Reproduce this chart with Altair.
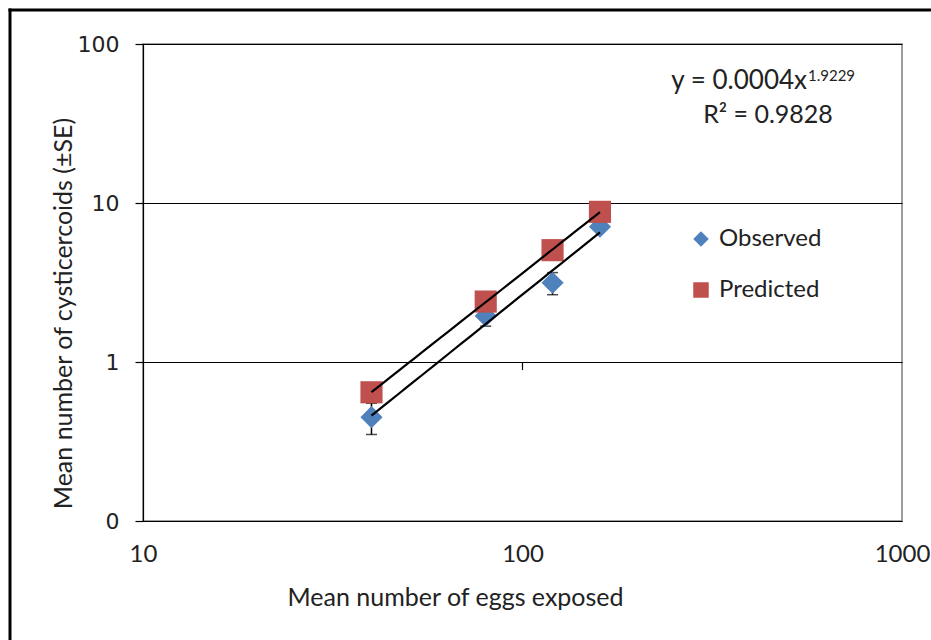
import altair as alt
import pandas as pd

# ---- data ----
eggs = [40, 80, 120, 160]
observed = [0.45, 1.95, 3.15, 7.1]
observed_se = [0.1, 0.27, 0.5, 0.35]
predicted = [0.645, 2.4, 5.05, 8.8]
series_names = ["Observed", "Predicted"]
series_colors = ["#4F81BD", "#C0504D"]
series_shapes = ["diamond", "square"]
x_ticks = [10, 100, 1000]
y_ticks = [0.1, 1, 10, 100]
eq_text = "y = 0.0004x"
eq_sup = "1.9229"
r2_text = "R² = 0.9828"

rows = []
for x, o, s in zip(eggs, observed, observed_se):
    rows.append({"series": "Observed", "x": x, "y": o, "lo": o - s, "hi": o + s})
for x, p in zip(eggs, predicted):
    rows.append({"series": "Predicted", "x": x, "y": p, "lo": p, "hi": p})
df = pd.DataFrame(rows)
obs_df = df[df.series == "Observed"]
one = pd.DataFrame({"eq": [eq_text], "sup": [eq_sup], "r2": [r2_text]})

W, H = 759, 477
TXT = "#222222"
YSCALE = alt.Scale(type="log", domain=[0.1, 100], nice=False)

x_enc = alt.X(
    "x:Q",
    scale=alt.Scale(type="log", domain=[10, 1000], nice=False),
    axis=alt.Axis(
        values=x_ticks, ticks=False, grid=False, format="d",
        domainColor="#000000", domainWidth=1.2,
        labelFont="Lato", labelFontSize=24, labelColor=TXT, labelPadding=21,
        labelFlush=False,
        title="Mean number of eggs exposed", titleFont="Lato", titleFontSize=25,
        titleFontWeight="normal", titleColor=TXT,
        titleX=312, titleY=84, titleAlign="center", titleBaseline="alphabetic",
    ),
)
y_enc = alt.Y(
    "y:Q",
    scale=YSCALE,
    axis=alt.Axis(
        values=y_ticks,
        labelExpr="datum.value < 0.5 ? '0' : format(datum.value, 'd')",
        grid=True, gridColor="#000000", gridWidth=1.2,
        tickSize=8, tickColor="#000000", tickWidth=1.2,
        domainColor="#000000", domainWidth=1.2,
        labelFont="DejaVu Sans", labelFontSize=22, labelColor=TXT, labelPadding=16,
        title="Mean number of cysticercoids (±SE)", titleFont="Lato", titleFontSize=25,
        titleFontWeight="normal", titleColor=TXT,
        titleX=-80, titleY=269, titleAngle=270, titleAlign="center", titleBaseline="middle",
    ),
)

leg = alt.Legend(
    title=None, orient="none", legendX=546, legendY=183,
    labelFont="Lato", labelFontSize=24, labelColor=TXT,
    symbolSize=240, symbolStrokeWidth=0, rowPadding=27, labelOffset=6,
)
color_enc = alt.Color(
    "series:N", scale=alt.Scale(domain=series_names, range=series_colors), legend=leg
)
shape_enc = alt.Shape(
    "series:N", scale=alt.Scale(domain=series_names, range=series_shapes), legend=leg
)

err = alt.Chart(obs_df).mark_rule(color="#000000", strokeWidth=1.5).encode(
    x=x_enc, y=alt.Y("lo:Q", scale=YSCALE), y2="hi:Q",
)
cap_lo = alt.Chart(obs_df).mark_tick(orient="horizontal", size=11, thickness=1.5, color="#000000").encode(
    x=x_enc, y=alt.Y("lo:Q", scale=YSCALE)
)
cap_hi = alt.Chart(obs_df).mark_tick(orient="horizontal", size=11, thickness=1.5, color="#000000").encode(
    x=x_enc, y=alt.Y("hi:Q", scale=YSCALE)
)

points = alt.Chart(df).mark_point(filled=True, opacity=1, size=490).encode(
    x=x_enc, y=y_enc, color=color_enc, shape=shape_enc,
    order=alt.Order("series:N"),
)

trend = alt.Chart(df).transform_regression(
    "x", "y", method="pow", groupby=["series"]
).mark_line(color="#000000", strokeWidth=2.2).encode(
    x=x_enc, y=y_enc, detail="series:N"
)

xtick = alt.Chart(one).mark_rule(color="#000000", strokeWidth=1.2).encode(
    x=alt.datum(100), y=alt.datum(1), y2=alt.datum(0.89)
)

eq_main = alt.Chart(one).mark_text(
    font="Lato", fontSize=26, fontWeight="normal", color=TXT,
    align="right", baseline="alphabetic"
).encode(text="eq:N", x=alt.value(664), y=alt.value(45))
eq_exp = alt.Chart(one).mark_text(
    font="Lato", fontSize=15, fontWeight="normal", color=TXT,
    align="left", baseline="alphabetic"
).encode(text="sup:N", x=alt.value(665), y=alt.value(37))
r2 = alt.Chart(one).mark_text(
    font="Lato", fontSize=25, fontWeight="normal", color=TXT,
    align="center", baseline="alphabetic"
).encode(text="r2:N", x=alt.value(625), y=alt.value(79))

border_left = alt.Chart(one).mark_rule(color="#000000", strokeWidth=3).encode(
    x=alt.value(-133), y=alt.value(-35.5), y2=alt.value(600)
)
border_top = alt.Chart(one).mark_rule(color="#000000", strokeWidth=3).encode(
    x=alt.value(-134.5), x2=alt.value(800), y=alt.value(-34)
)

chart = alt.layer(
    err, cap_lo, cap_hi, points, trend, xtick, eq_main, eq_exp, r2, border_left, border_top
).properties(
    width=W, height=H,
    autosize=alt.AutoSizeParams(type="none"),
    padding={"left": 143, "top": 44, "right": 29, "bottom": 119},
    background="#ffffff",
).configure_view(
    stroke="#7f7f7f", strokeWidth=1.5
)

chart.save("out.html", embed_options={"renderer": "svg", "actions": False})
